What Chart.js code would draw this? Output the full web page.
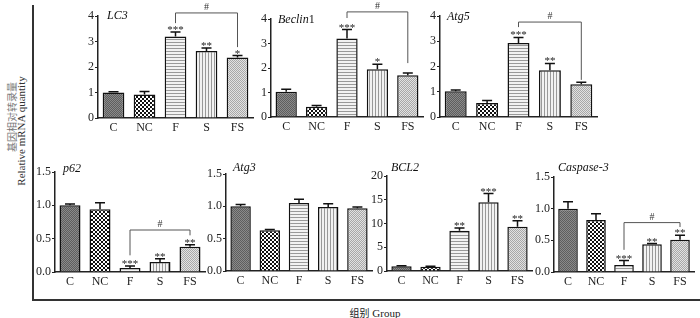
<!DOCTYPE html>
<html lang="zh">
<head>
  <meta charset="UTF-8" />
  <title>Relative mRNA quantity</title>
  <script src="https://cdn.jsdelivr.net/npm/chart.js"></script>
  <style>
    html, body { margin: 0; padding: 0; background: #fff; }
    #wrap { position: relative; width: 700px; height: 318px; overflow: hidden; font-family: "Liberation Serif", serif; color: #222; }
    #wrap canvas { position: absolute; }
    .frame-v { position: absolute; left: 32px; top: 5px; width: 1.5px; height: 295px; background: #333; }
    .frame-h { position: absolute; left: 32px; top: 299px; width: 668px; height: 1.5px; background: #333; }
    .rot { position: absolute; white-space: nowrap; transform: translate(-50%, -50%) rotate(-90deg); }
    .xtitle { position: absolute; left: 375px; top: 312px; transform: translate(-50%, -50%); font-size: 11px; white-space: nowrap; }
  </style>
</head>
<body>
  <div id="wrap">
    <div class="frame-v"></div>
    <div class="frame-h"></div>
    <div class="rot" style="left:11px;top:117px;font-family:'Noto Sans CJK SC';font-size:10px;color:#777;">基因相对转录量</div>
    <div class="rot" style="left:21px;top:131px;font-family:'Liberation Serif';font-size:11px;color:#333;">Relative mRNA quantity</div>
    <div class="xtitle"><span style="font-family:'Noto Sans CJK SC';font-size:10px;">组别</span> Group</div>
  </div>

  <script>
    // 数据
    const groups = ['C', 'NC', 'F', 'S', 'FS'];

    const lc3 = [1.0, 0.92, 3.2, 2.63, 2.37];
    const lc3Err = [0.03, 0.12, 0.17, 0.12, 0.08];
    const lc3Stars = ['', '', '***', '**', '*'];
    const lc3Bracket = [2, 4, 4.12, 3.72, 2.78]; // from, to, level, left end, right end

    const beclin1 = [1.03, 0.42, 3.2, 1.95, 1.7];
    const beclin1Err = [0.1, 0.05, 0.37, 0.2, 0.1];
    const beclin1Stars = ['', '', '***', '*', ''];
    const beclin1Bracket = [2, 4, 4.29, 4.04, 2.2];

    const atg5 = [1.02, 0.55, 2.93, 1.85, 1.3];
    const atg5Err = [0.05, 0.1, 0.22, 0.27, 0.08];
    const atg5Stars = ['', '', '***', '**', ''];
    const atg5Bracket = [2, 4, 3.76, 3.56, 1.47];

    const p62 = [1.0, 0.94, 0.06, 0.15, 0.38];
    const p62Err = [0.02, 0.1, 0.03, 0.05, 0.03];
    const p62Stars = ['', '', '***', '**', '**'];
    const p62Bracket = [2, 4, 0.63, 0.25, 0.55];

    const atg3 = [1.0, 0.63, 1.05, 0.99, 0.97];
    const atg3Err = [0.03, 0.01, 0.06, 0.05, 0.02];
    const atg3Stars = ['', '', '', '', ''];

    const bcl2 = [1.0, 0.9, 8.5, 14.5, 9.3];
    const bcl2Err = [0.1, 0.1, 0.55, 1.8, 1.3];
    const bcl2Stars = ['', '', '**', '***', '**'];

    const casp3 = [1.0, 0.82, 0.11, 0.44, 0.51];
    const casp3Err = [0.11, 0.1, 0.07, 0.01, 0.07];
    const casp3Stars = ['', '', '***', '**', '**'];
    const casp3Bracket = [2, 4, 0.78, 0.35, 0.71];

    // 纹理
    function makePattern(kind) {
      const c = document.createElement('canvas');
      const g = c.getContext('2d');
      if (kind === 'dark') {
        c.width = 2; c.height = 2;
        g.fillStyle = '#5e5e5e'; g.fillRect(0, 0, 2, 2);
        g.fillStyle = '#8a8a8a'; g.fillRect(0, 0, 1, 1); g.fillRect(1, 1, 1, 1);
      } else if (kind === 'check') {
        c.width = 4; c.height = 4;
        g.fillStyle = '#fff'; g.fillRect(0, 0, 4, 4);
        g.fillStyle = '#111'; g.fillRect(0, 0, 2, 2); g.fillRect(2, 2, 2, 2);
      } else if (kind === 'hstripe') {
        c.width = 1; c.height = 3;
        g.fillStyle = '#f2f2f2'; g.fillRect(0, 0, 1, 3);
        g.fillStyle = '#999'; g.fillRect(0, 0, 1, 1);
      } else if (kind === 'vstripe') {
        c.width = 3; c.height = 1;
        g.fillStyle = '#f2f2f2'; g.fillRect(0, 0, 3, 1);
        g.fillStyle = '#999'; g.fillRect(0, 0, 1, 1);
      } else {
        c.width = 2; c.height = 2;
        g.fillStyle = '#e2e2e2'; g.fillRect(0, 0, 2, 2);
        g.fillStyle = '#a8a8a8'; g.fillRect(0, 0, 1, 1); g.fillRect(1, 1, 1, 1);
      }
      return g.createPattern(c, 'repeat');
    }
    const fills = ['dark', 'check', 'hstripe', 'vstripe', 'dots'].map(makePattern);

    // 面板布局
    const panels = [
      { title: ['LC3', ''], data: lc3, err: lc3Err, stars: lc3Stars, bracket: lc3Bracket, max: 4, step: 1, dec: 0, axisX: 98, width: 155, canvasTop: 0, top: 16, bottom: 118, titleY: 16, titleDx: 9 },
      { title: ['Beclin', '1'], data: beclin1, err: beclin1Err, stars: beclin1Stars, bracket: beclin1Bracket, max: 4, step: 1, dec: 0, axisX: 271, width: 152, canvasTop: 0, top: 19, bottom: 117, titleY: 20, titleDx: 7 },
      { title: ['Atg5', ''], data: atg5, err: atg5Err, stars: atg5Stars, bracket: atg5Bracket, max: 4, step: 1, dec: 0, axisX: 440, width: 157, canvasTop: 0, top: 16, bottom: 117, titleY: 17, titleDx: 7 },
      { title: ['p62', ''], data: p62, err: p62Err, stars: p62Stars, bracket: p62Bracket, max: 1.5, step: 0.5, dec: 1, axisX: 55, width: 150, canvasTop: 145, top: 172, bottom: 272, titleY: 169, titleDx: 8 },
      { title: ['Atg3', ''], data: atg3, err: atg3Err, stars: atg3Stars, bracket: null, max: 1.5, step: 0.5, dec: 1, axisX: 226, width: 146, canvasTop: 145, top: 174, bottom: 271, titleY: 168, titleDx: 7 },
      { title: ['BCL2', ''], data: bcl2, err: bcl2Err, stars: bcl2Stars, bracket: null, max: 20, step: 5, dec: 0, axisX: 387, width: 145, canvasTop: 145, top: 176, bottom: 271, titleY: 168, titleDx: 4 },
      { title: ['Caspase-3', ''], data: casp3, err: casp3Err, stars: casp3Stars, bracket: casp3Bracket, max: 1.5, step: 0.5, dec: 1, axisX: 554, width: 140, canvasTop: 145, top: 177, bottom: 272, titleY: 168, titleDx: 4 }
    ];

    const Y_W = 34, X_H = 20;

    // 误差线、星号、括号、标题
    const extrasPlugin = {
      id: 'extras',
      afterDatasetsDraw(chart, args, opts) {
        const p = opts.panel;
        const ctx = chart.ctx;
        const x = chart.scales.x, y = chart.scales.y;
        const meta = chart.getDatasetMeta(0);
        ctx.save();
        ctx.strokeStyle = '#111';
        ctx.fillStyle = '#222';
        ctx.lineWidth = 1.5;
        p.data.forEach((v, i) => {
          const cx = meta.data[i].x;
          const yTop = y.getPixelForValue(v);
          const yErr = y.getPixelForValue(v + p.err[i]);
          ctx.beginPath();
          ctx.moveTo(cx, yTop);
          ctx.lineTo(cx, yErr);
          ctx.moveTo(cx - 5, yErr);
          ctx.lineTo(cx + 5, yErr);
          ctx.stroke();
          if (p.stars[i]) {
            ctx.font = '11px "Liberation Serif"';
            ctx.textAlign = 'center';
            ctx.textBaseline = 'alphabetic';
            ctx.fillText(p.stars[i], cx, yErr + 1);
          }
        });
        if (p.bracket) {
          const [a, b, lvl, la, lb] = p.bracket;
          const xa = x.getPixelForValue(a), xb = x.getPixelForValue(b);
          const yl = y.getPixelForValue(lvl);
          ctx.strokeStyle = '#555';
          ctx.lineWidth = 1;
          ctx.beginPath();
          ctx.moveTo(xa, y.getPixelForValue(la));
          ctx.lineTo(xa, yl);
          ctx.lineTo(xb, yl);
          ctx.lineTo(xb, y.getPixelForValue(lb));
          ctx.stroke();
          ctx.font = '10px "Liberation Serif"';
          ctx.textAlign = 'center';
          ctx.textBaseline = 'alphabetic';
          ctx.fillStyle = '#333';
          ctx.fillText('#', (xa + xb) / 2, yl - 3);
        }
        // 标题
        const tx = chart.chartArea.left + p.titleDx;
        const ty = p.titleY - p.canvasTop;
        ctx.fillStyle = '#111';
        ctx.textAlign = 'left';
        ctx.textBaseline = 'middle';
        ctx.font = 'italic 12px "Liberation Serif"';
        ctx.fillText(p.title[0], tx, ty);
        if (p.title[1]) {
          const w = ctx.measureText(p.title[0]).width;
          ctx.font = '12px "Liberation Serif"';
          ctx.fillText(p.title[1], tx + w, ty);
        }
        ctx.restore();
      }
    };

    const wrap = document.getElementById('wrap');
    panels.forEach(p => {
      const cv = document.createElement('canvas');
      const w = Y_W + p.width + 2;
      const h = p.bottom - p.canvasTop + X_H;
      cv.width = w; cv.height = h;
      cv.style.left = (p.axisX - Y_W) + 'px';
      cv.style.top = p.canvasTop + 'px';
      cv.style.width = w + 'px';
      cv.style.height = h + 'px';
      wrap.appendChild(cv);

      new Chart(cv.getContext('2d'), {
        type: 'bar',
        data: {
          labels: groups,
          datasets: [{
            data: p.data,
            backgroundColor: fills,
            borderColor: '#111',
            borderWidth: 1.5,
            borderSkipped: 'bottom',
            barPercentage: 0.7,
            categoryPercentage: 1.0
          }]
        },
        options: {
          responsive: false,
          animation: false,
          devicePixelRatio: 1,
          layout: { padding: { top: p.top - p.canvasTop, right: 2, left: 0, bottom: 0 } },
          plugins: { legend: { display: false }, tooltip: { enabled: false }, extras: { panel: p } },
          scales: {
            x: {
              afterFit: s => { s.height = X_H; },
              grid: { display: true, drawOnChartArea: false, drawTicks: false },
              border: { display: true, color: '#222', width: 1.5 },
              ticks: { color: '#222', font: { family: 'Liberation Serif', size: 12 }, padding: 3 }
            },
            y: {
              min: 0,
              max: p.max,
              afterFit: s => { s.width = Y_W; },
              grid: { display: true, drawOnChartArea: false, drawTicks: true, tickLength: 3, color: '#222', lineWidth: 1 },
              border: { display: true, color: '#222', width: 1.5 },
              ticks: {
                stepSize: p.step,
                color: '#222',
                padding: 1,
                font: { family: 'Liberation Serif', size: 12 },
                callback: v => v.toFixed(p.dec)
              }
            }
          }
        },
        plugins: [extrasPlugin]
      });
    });
  </script>
</body>
</html>
